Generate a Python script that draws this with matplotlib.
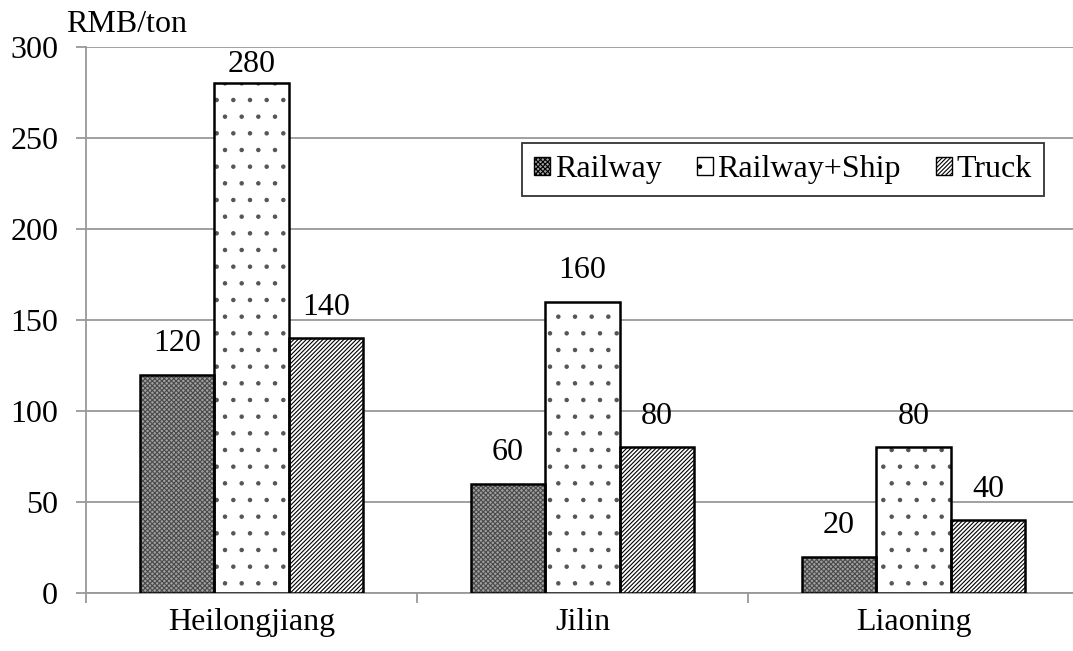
import numpy as np
import matplotlib.pyplot as plt

plt.rcParams['font.family'] = ['Liberation Serif', 'DejaVu Serif']
plt.rcParams['hatch.linewidth'] = 0.8

provinces = ['Heilongjiang', 'Jilin', 'Liaoning']
modes = ['Railway', 'Railway+Ship', 'Truck']
railway = [120, 60, 20]
railway_ship = [280, 160, 80]
truck = [140, 80, 40]

fig = plt.figure(figsize=(10.73, 6.51), dpi=100)
ax = fig.add_axes([0.0801, 0.0891, 0.9254, 0.8387])

x = np.arange(len(provinces))
w = 0.225
# fill colour, hatch, hatch colour
styles = [('#a0a0a0', 'xxxxxxx', '#4a4a4a'),
          ('white', '.', '#555555'),
          ('white', '////////', 'black')]

handles = []
for i, (vals, name) in enumerate(zip([railway, railway_ship, truck], modes)):
    fc, hatch, hc = styles[i]
    pos = x + (i - 1) * w
    # hatched fill, then black outline on top
    ax.bar(pos, vals, w, facecolor=fc, hatch=hatch, edgecolor=hc,
           linewidth=0, zorder=3)
    bars = ax.bar(pos, vals, w, facecolor='none', edgecolor='black',
                  linewidth=1.8, zorder=4)
    for b, v in zip(bars, vals):
        pad = 3 if v > 250 else 12
        ax.annotate(str(v), (b.get_x() + b.get_width() / 2, v),
                    xytext=(0, pad), textcoords='offset points',
                    ha='center', va='bottom', fontsize=23)
    handles.append(plt.Rectangle((0, 0), 1, 1, facecolor=fc, hatch=hatch,
                                 edgecolor='black', linewidth=1.0))

ax.set_xlim(-0.5, 2.5)
ax.set_ylim(0, 300)
ax.set_yticks(range(0, 301, 50))
ax.yaxis.grid(True, color='#999999', linewidth=1.3, zorder=0)
ax.set_axisbelow(True)
for s in ['top', 'right']:
    ax.spines[s].set_visible(False)
for s in ['left', 'bottom']:
    ax.spines[s].set_color('#999999')
    ax.spines[s].set_linewidth(1.3)

ax.set_xticks(x)
ax.set_xticklabels(provinces)
ax.tick_params(axis='x', length=0, labelsize=23, pad=11)
ax.set_xticks([-0.5, 0.5, 1.5, 2.5], minor=True)
ax.tick_params(axis='x', which='minor', length=7, color='#999999', width=1.3)
ax.tick_params(axis='y', length=7, color='#999999', width=1.3, labelsize=23, pad=13)

ax.text(-0.020, 1.027, 'RMB/ton', transform=ax.transAxes, fontsize=23,
        ha='left', va='baseline')

leg = ax.legend(handles, modes, loc='upper right', bbox_to_anchor=(0.965, 0.824),
                ncol=3, fontsize=23, frameon=True, fancybox=False,
                edgecolor='black', handlelength=0.5, handleheight=0.5,
                handletextpad=0.15, columnspacing=1.1, borderpad=0.38,
                borderaxespad=0)
leg.get_frame().set_linewidth(1.3)

fig.savefig('out.png')
